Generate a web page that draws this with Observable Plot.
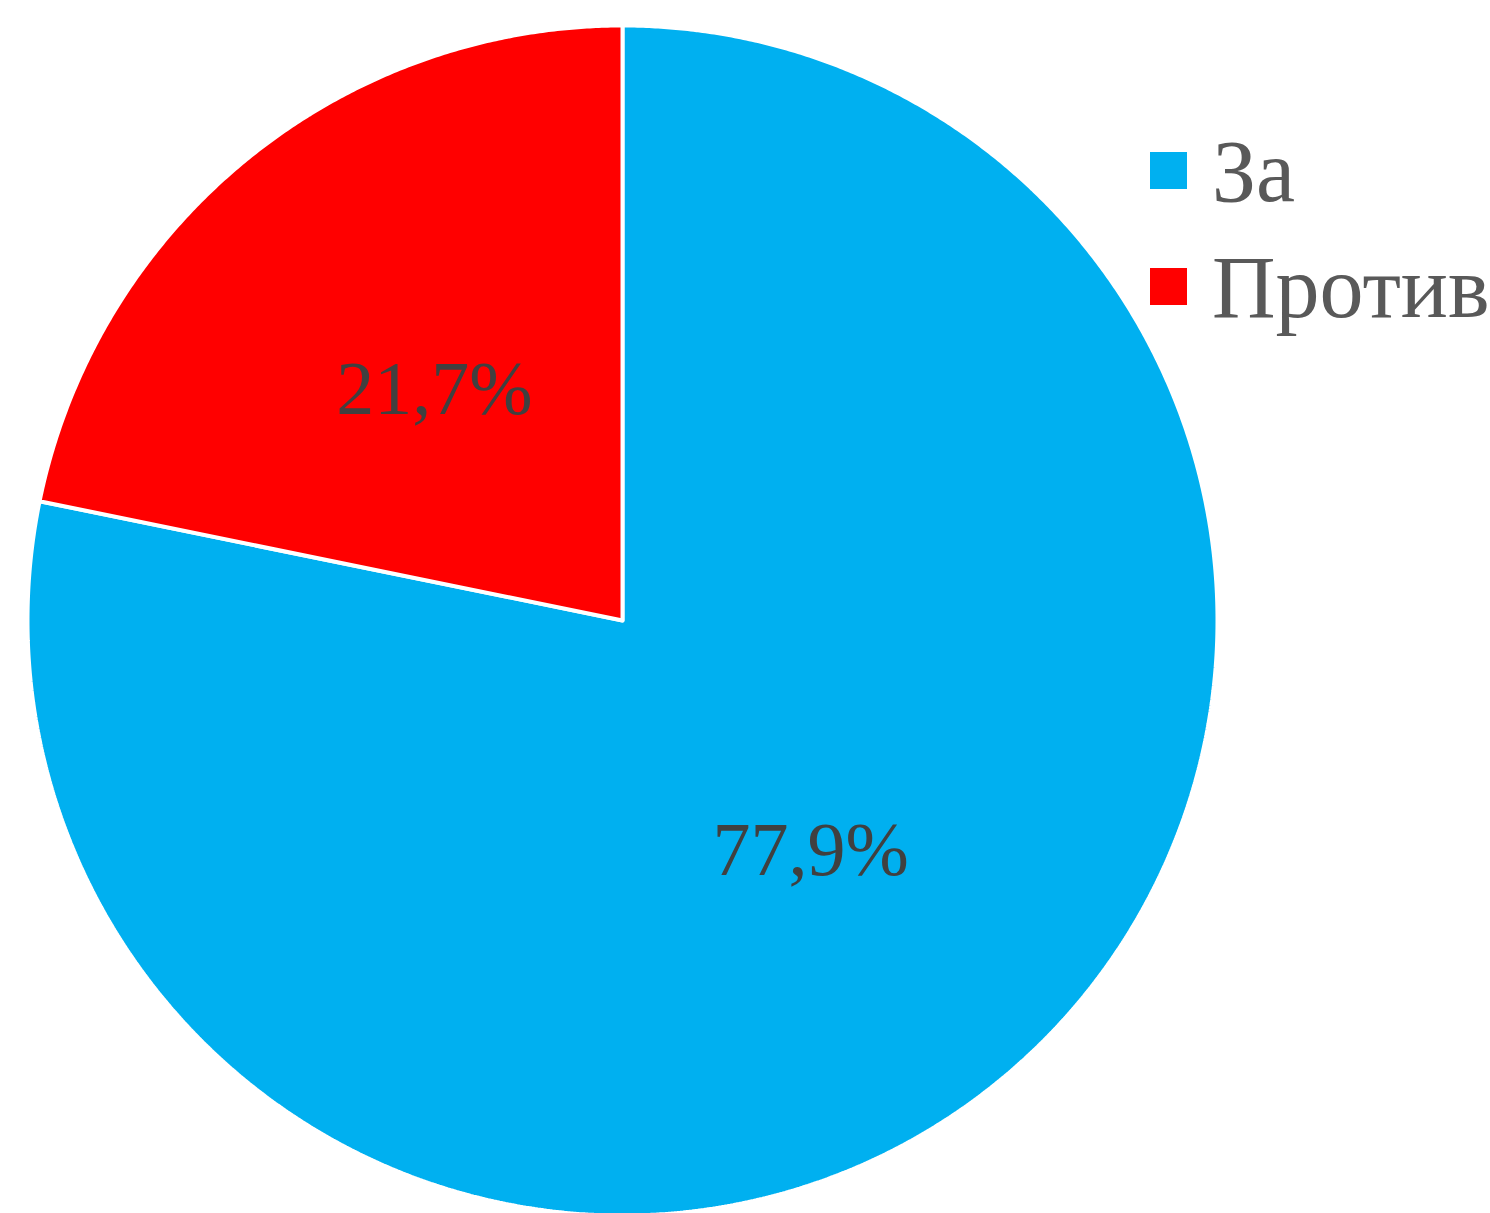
<!DOCTYPE html>
<html>
<head>
<meta charset="utf-8">
<script src="https://cdn.jsdelivr.net/npm/d3@7"></script>
<script src="https://cdn.jsdelivr.net/npm/@observablehq/plot@0.6"></script>
<style>
  html, body { margin: 0; padding: 0; background: #fff; }
  #wrap { position: relative; width: 1490px; height: 1213px; overflow: hidden; }
  #legend { position: absolute; left: 1150px; top: 118px; font-family: "Liberation Serif", "Times New Roman", serif; color: #595959; font-size: 88px; }
  .item { position: relative; height: 116px; }
  .sw { position: absolute; left: 0; width: 37px; height: 37px; top: 34px; }
  .lab { position: absolute; left: 62px; top: -4px; line-height: 116px; white-space: nowrap; }
</style>
</head>
<body>
<div id="wrap"><div id="chart"></div><div id="legend"></div></div>
<script>
const categories = ["За", "Против"];
const values = [77.9, 21.7];
const labels = ["77,9%", "21,7%"];
const colors = ["#00B0F0", "#FF0000"];

const data = categories.map((c, i) => ({category: c, value: values[i], label: labels[i]}));
const arcs = d3.pie().sort(null).value(d => d.value).startAngle(0).endAngle(2 * Math.PI)(data);

// Polygon outline for each slice (center + arc samples)
const outline = [];
arcs.forEach(a => {
  const c = a.data.category;
  outline.push({category: c, x: 0, y: 0});
  const n = Math.max(2, Math.ceil((a.endAngle - a.startAngle) / 0.005));
  for (let k = 0; k <= n; k++) {
    const t = a.startAngle + (a.endAngle - a.startAngle) * k / n;
    outline.push({category: c, x: Math.sin(t), y: Math.cos(t)});
  }
  outline.push({category: c, x: 0, y: 0});
});
const centroids = arcs.map(a => {
  const m = (a.startAngle + a.endAngle) / 2;
  return {label: a.data.label, x: 0.5 * Math.sin(m), y: 0.5 * Math.cos(m)};
});

const cx = 622, cy = 620, r = 595;
const chart = Plot.plot({
  width: 1490,
  height: 1213,
  margin: 0,
  x: {domain: [-1, 1], range: [cx - r, cx + r], axis: null},
  y: {domain: [-1, 1], range: [cy + r, cy - r], axis: null},
  color: {domain: categories, range: colors},
  style: {background: "#fff"},
  marks: [
    Plot.line(outline, {x: "x", y: "y", z: "category", fill: "category", stroke: "#fff", strokeWidth: 4, strokeLinejoin: "miter", curve: "linear"}),
    Plot.text(centroids, {x: "x", y: "y", text: "label", fill: "#404040", fontSize: 76, fontFamily: "Liberation Serif, Times New Roman, serif"})
  ]
});
document.getElementById("chart").appendChild(chart);

const legend = document.getElementById("legend");
categories.forEach((c, i) => {
  const it = document.createElement("div");
  it.className = "item";
  it.innerHTML = `<div class="sw" style="background:${colors[i]}"></div><div class="lab">${c}</div>`;
  legend.appendChild(it);
});
</script>
</body>
</html>
